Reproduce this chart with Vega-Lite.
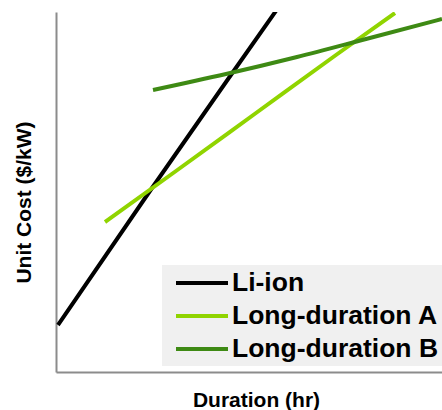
{
  "$schema": "https://vega.github.io/schema/vega-lite/v6.json",
  "width": 386,
  "height": 360,
  "autosize": {"type": "none"},
  "padding": {"left": 56, "top": 12, "right": 0, "bottom": 38},
  "background": "white",
  "config": {
    "view": {"stroke": null},
    "axis": {"titleFont": "Liberation Sans", "titleFontSize": 21, "titleFontWeight": "bold", "titleColor": "black"}
  },
  "data": {
    "values": [
      {"series": "Li-ion", "x": 2, "y": 47},
      {"series": "Li-ion", "x": 96, "y": 184},
      {"series": "Li-ion", "x": 177, "y": 300},
      {"series": "Li-ion", "x": 222, "y": 364},
      {"series": "Long-duration A", "x": 49, "y": 150},
      {"series": "Long-duration A", "x": 120, "y": 201},
      {"series": "Long-duration A", "x": 200, "y": 259},
      {"series": "Long-duration A", "x": 280, "y": 317},
      {"series": "Long-duration A", "x": 339, "y": 359},
      {"series": "Long-duration B", "x": 97, "y": 282},
      {"series": "Long-duration B", "x": 170, "y": 298},
      {"series": "Long-duration B", "x": 241, "y": 315},
      {"series": "Long-duration B", "x": 310, "y": 333},
      {"series": "Long-duration B", "x": 386, "y": 353}
    ]
  },
  "mark": {"type": "line", "strokeWidth": 4, "interpolate": "monotone", "clip": true},
  "encoding": {
    "x": {
      "field": "x", "type": "quantitative",
      "scale": {"domain": [0, 386], "nice": false, "zero": false},
      "axis": {
        "title": "Duration (hr)", "ticks": false, "labels": false, "grid": false,
        "domainColor": "#8c8c8c", "domainWidth": 2,
        "titleFontSize": 21, "titlePadding": 17, "titleX": 200
      }
    },
    "y": {
      "field": "y", "type": "quantitative",
      "scale": {"domain": [0, 360], "nice": false, "zero": false},
      "axis": {
        "title": "Unit Cost ($/kW)", "ticks": false, "labels": false, "grid": false,
        "domainColor": "#8c8c8c", "domainWidth": 2,
        "titleFontSize": 21, "titlePadding": 22, "titleY": 190
      }
    },
    "color": {
      "field": "series", "type": "nominal",
      "scale": {
        "domain": ["Li-ion", "Long-duration A", "Long-duration B"],
        "range": ["#000000", "#90d400", "#3e8a14"]
      },
      "legend": {
        "title": null,
        "orient": "none",
        "legendX": 106,
        "legendY": 253,
        "fillColor": "#f0f0f0",
        "padding": 3,
        "symbolType": "M -2 0 L 2 0",
        "symbolSize": 676,
        "symbolStrokeWidth": 4,
        "symbolOffset": 22,
        "labelFont": "Liberation Sans",
        "labelFontSize": 26.5,
        "labelFontWeight": "bold",
        "labelColor": "black",
        "labelOffset": 15,
        "labelLimit": 400,
        "rowPadding": 4
      }
    }
  }
}
